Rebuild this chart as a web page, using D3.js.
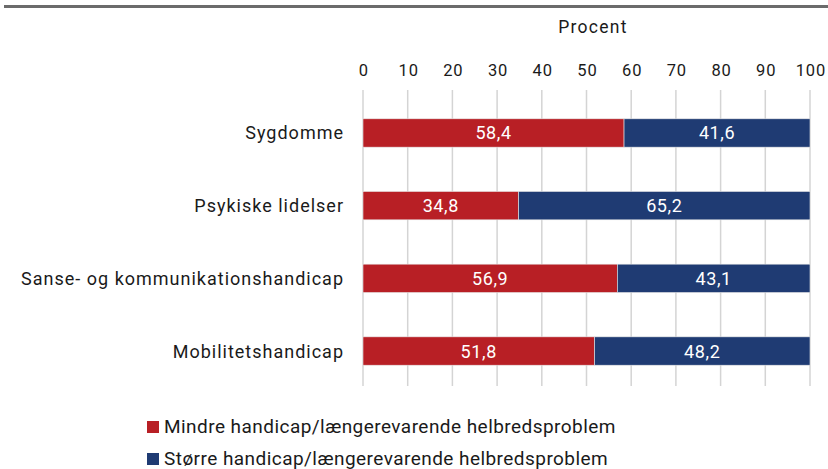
<!DOCTYPE html>
<html>
<head>
<meta charset="utf-8">
<script src="https://cdn.jsdelivr.net/npm/d3@7"></script>
<style>
  body { margin: 0; background: #fff; }
  text { font-family: Roboto, "Noto Sans", sans-serif; }
</style>
</head>
<body>
<div id="chart"></div>
<script>
// data
const categories = ["Sygdomme", "Psykiske lidelser", "Sanse- og kommunikationshandicap", "Mobilitetshandicap"];
const mindre = [58.4, 34.8, 56.9, 51.8];
const stoerre = [41.6, 65.2, 43.1, 48.2];
const seriesNames = ["Mindre handicap/længerevarende helbredsproblem", "Større handicap/længerevarende helbredsproblem"];
const colors = ["#b81f25", "#1f3b73"];
const tickValues = [0, 10, 20, 30, 40, 50, 60, 70, 80, 90, 100];

const width = 828, height = 469;
const svg = d3.select("#chart").append("svg")
  .attr("width", width)
  .attr("height", height);

// top rule
svg.append("rect").attr("x", 4).attr("y", 5).attr("width", width - 4).attr("height", 3).attr("fill", "#6b6b6b");

const x = d3.scaleLinear().domain([0, 100]).range([363, 810]);
const y = d3.scaleBand().domain(categories).range([97, 387]).paddingInner(0.61).paddingOuter(0.3);

// gridlines
svg.append("g").attr("class", "grid")
  .selectAll("line")
  .data(tickValues)
  .join("line")
  .attr("x1", d => x(d)).attr("x2", d => x(d))
  .attr("y1", 90).attr("y2", 386)
  .attr("stroke", "#d4d4d4")
  .attr("stroke-width", 1.5);

// axis on top
const axis = svg.append("g")
  .attr("transform", "translate(0,76)")
  .call(d3.axisTop(x).tickValues(tickValues).tickSize(0).tickPadding(0));
axis.select(".domain").remove();
axis.selectAll("text")
  .attr("font-size", 16.5).attr("letter-spacing", 0.9).attr("fill", "#1a1a1a")
  .attr("dx", 0.45);

svg.append("text")
  .attr("x", 593).attr("y", 33)
  .attr("text-anchor", "middle")
  .attr("font-size", 17.5).attr("letter-spacing", 1.3).attr("fill", "#1a1a1a")
  .text("Procent");

// stacked bars
const rows = categories.map((c, i) => ({cat: c, a: mindre[i], b: stoerre[i]}));
const stack = d3.stack().keys(["a", "b"])(rows);

const layers = svg.append("g").attr("class", "bars")
  .selectAll("g")
  .data(stack)
  .join("g")
  .attr("fill", (d, i) => colors[i]);

layers.selectAll("rect")
  .data(d => d)
  .join("rect")
  .attr("x", d => x(d[0]))
  .attr("y", d => y(d.data.cat))
  .attr("width", d => x(d[1]) - x(d[0]))
  .attr("height", y.bandwidth())
  .attr("stroke", "#e6e6e6")
  .attr("stroke-width", 0.6);

layers.selectAll("text")
  .data(d => d)
  .join("text")
  .attr("x", d => (x(d[0]) + x(d[1])) / 2)
  .attr("y", d => y(d.data.cat) + y.bandwidth() / 2)
  .attr("dy", "0.36em")
  .attr("text-anchor", "middle")
  .attr("font-size", 18)
  .attr("letter-spacing", 0.6)
  .attr("fill", "#fff")
  .text(d => d3.format(".1f")(d[1] - d[0]).replace(".", ","));

// category labels
svg.append("g").selectAll("text")
  .data(categories)
  .join("text")
  .attr("x", 344)
  .attr("y", d => y(d) + y.bandwidth() / 2)
  .attr("dy", "0.36em")
  .attr("text-anchor", "end")
  .attr("font-size", 18)
  .attr("letter-spacing", 1)
  .attr("fill", "#1a1a1a")
  .text(d => d);

// legend
const legend = svg.append("g").selectAll("g")
  .data(seriesNames)
  .join("g")
  .attr("transform", (d, i) => `translate(147,${421 + i * 32})`);
legend.append("rect").attr("width", 12).attr("height", 12).attr("fill", (d, i) => colors[i]);
legend.append("text")
  .attr("x", 17).attr("y", 12)
  .attr("font-size", 19).attr("letter-spacing", 0.45).attr("fill", "#1a1a1a")
  .text(d => d);
</script>
</body>
</html>
